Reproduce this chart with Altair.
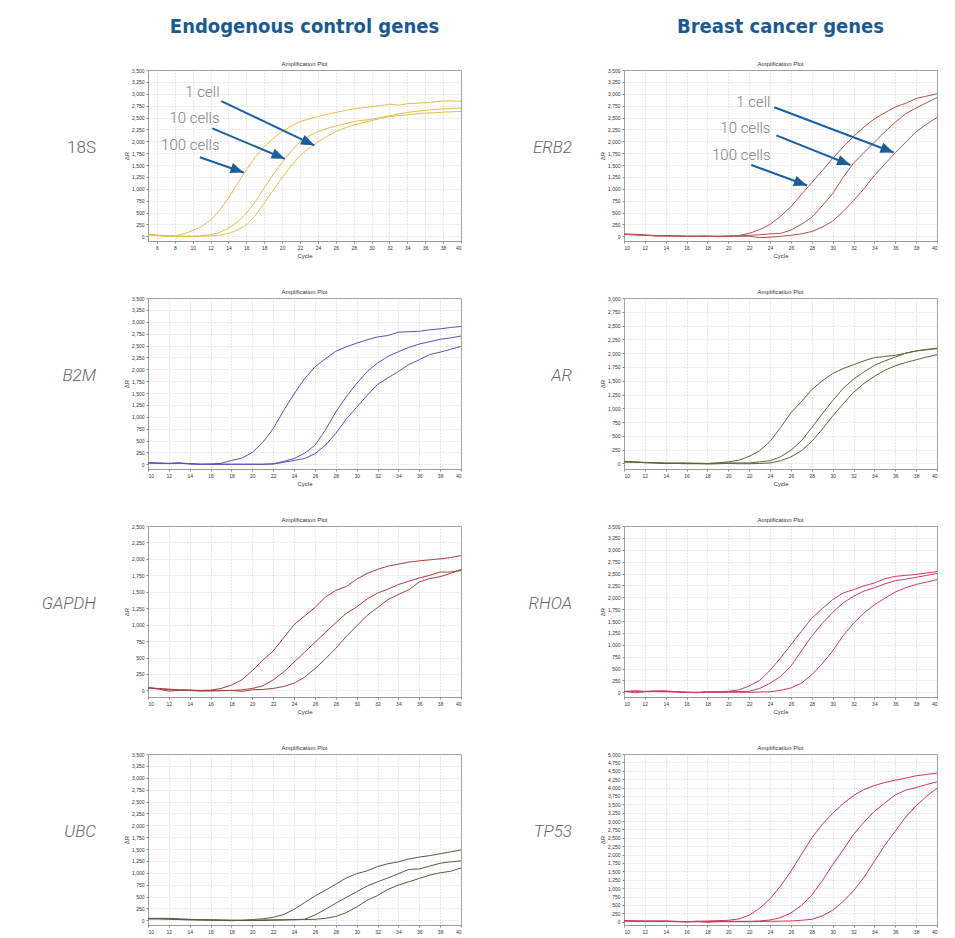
import math
import altair as alt
import pandas as pd

# ---------------- data ----------------
CYCLES_18S = list(range(5, 41))
CYCLES = list(range(10, 41))

S18_100 = [40, 25, 5, 10, 50, 120, 210, 340, 540, 800, 1110, 1400, 1670, 1880, 2060, 2200, 2320, 2415,
           2470, 2520, 2565, 2607, 2645, 2680, 2705, 2730, 2750, 2780, 2760, 2790, 2800, 2810, 2830, 2850, 2850, 2840]
S18_10 = [30, 20, 5, 0, 0, 0, 10, 30, 80, 165, 300, 485, 730, 1020, 1300, 1557, 1790, 1985,
          2110, 2200, 2270, 2320, 2370, 2414, 2440, 2460, 2500, 2536, 2575, 2607, 2630, 2650, 2665, 2680, 2690, 2700]
S18_1 = [30, 20, 5, 0, 0, 0, 0, 5, 20, 57, 130, 235, 440, 700, 970, 1235, 1480, 1700,
         1850, 1985, 2100, 2200, 2280, 2343, 2390, 2436, 2480, 2520, 2540, 2557, 2575, 2593, 2600, 2614, 2620, 2628]

B2M_100 = [30, 25, 20, 30, 10, 0, 5, 20, 79, 129, 250, 460, 750, 1130, 1480, 1800, 2050, 2220, 2380, 2470,
           2550, 2620, 2680, 2710, 2780, 2790, 2800, 2830, 2850, 2880, 2900]
B2M_10 = [30, 20, 15, 20, 10, 0, 0, 0, 0, 0, 0, 0, 10, 60, 120, 230, 400, 720, 1100, 1420,
          1700, 1950, 2130, 2270, 2370, 2460, 2530, 2580, 2630, 2660, 2700]
B2M_1 = [30, 20, 15, 20, 10, 0, 0, 0, 0, 0, 0, 0, 5, 40, 80, 120, 220, 400, 650, 950,
         1200, 1450, 1680, 1820, 1950, 2100, 2200, 2310, 2360, 2420, 2480]

GAPDH_100 = [40, 30, 20, 10, 5, 0, 5, 30, 80, 160, 300, 460, 600, 800, 1000, 1130, 1260, 1420, 1520, 1580,
             1690, 1780, 1840, 1890, 1920, 1950, 1970, 1985, 2000, 2020, 2050]
GAPDH_10 = [40, 20, -10, 0, 5, -5, -10, -5, 0, 10, 30, 70, 160, 280, 430, 580, 730, 880, 1030, 1170,
            1270, 1390, 1480, 1540, 1610, 1660, 1710, 1750, 1800, 1800, 1820]
GAPDH_1 = [40, 25, 10, 5, 0, -10, 0, 0, 0, -15, 10, 15, 30, 60, 110, 200, 330, 480, 640, 820,
           980, 1140, 1260, 1380, 1460, 1530, 1650, 1700, 1730, 1780, 1840]

UBC_100 = [40, 40, 40, 30, 20, 10, 0, 0, -10, 0, 15, 30, 60, 120, 230, 370, 510, 630, 760, 890,
           980, 1040, 1130, 1190, 1230, 1290, 1330, 1360, 1400, 1440, 1480]
UBC_10 = [30, 30, 25, 15, 10, 10, 10, 5, 0, 0, 0, 5, 10, 10, 15, 20, 110, 230, 360, 480,
          600, 720, 810, 890, 980, 1070, 1080, 1140, 1200, 1230, 1250]
UBC_1 = [30, 30, 25, 15, 10, 5, 5, 0, 0, -5, -5, -5, 0, 5, 10, 15, 20, 40, 80, 160,
         280, 420, 520, 650, 740, 810, 880, 950, 1000, 1030, 1100]

ERB2_100 = [50, 40, 30, 5, 10, 5, 0, 0, 5, -10, 5, 15, 60, 140, 250, 420, 620, 880, 1130, 1380,
            1640, 1880, 2100, 2300, 2470, 2600, 2720, 2800, 2900, 2950, 3000]
ERB2_10 = [40, 30, 20, 15, 10, 5, 0, 0, 0, 0, 0, 10, 20, 30, 50, 60, 130, 250, 400, 640,
           900, 1240, 1540, 1760, 1980, 2200, 2400, 2580, 2700, 2810, 2920]
ERB2_1 = [40, 30, 20, 10, 5, 5, 0, 0, 0, 0, 0, 0, 0, -30, -20, 0, 20, 50, 100, 190,
          320, 520, 750, 1000, 1280, 1520, 1760, 1980, 2200, 2360, 2500]

AR_100 = [40, 30, 20, 15, 10, 10, 10, 5, 0, 10, 30, 60, 130, 230, 400, 650, 920, 1120, 1340, 1500,
          1630, 1720, 1790, 1860, 1920, 1940, 1960, 2000, 2040, 2060, 2090]
AR_10 = [30, 25, 15, 10, 0, 0, 0, 0, 0, 5, 10, 10, 10, 30, 50, 120, 240, 410, 650, 900,
         1140, 1360, 1530, 1660, 1780, 1860, 1930, 2000, 2040, 2070, 2080]
AR_1 = [30, 25, 15, 10, 0, 0, -5, -5, -10, -5, 0, -5, -5, 0, 10, 50, 120, 230, 400, 620,
        860, 1080, 1290, 1450, 1580, 1690, 1770, 1830, 1880, 1930, 1970]

RHOA_100 = [10, 30, 20, 30, 30, 10, 0, -10, 10, 10, 20, 50, 130, 250, 460, 720, 1000, 1280, 1560, 1760,
            1950, 2090, 2160, 2240, 2300, 2390, 2440, 2460, 2480, 2510, 2540]
RHOA_10 = [20, -10, 10, 20, 20, 10, 0, -5, 10, 5, 10, 15, 20, 80, 190, 330, 550, 870, 1180, 1450,
           1680, 1880, 2020, 2130, 2200, 2280, 2350, 2380, 2420, 2460, 2500]
RHOA_1 = [20, 20, 15, 15, 10, 5, 0, 0, 0, 0, 0, 0, 0, 5, 10, 40, 90, 190, 370, 600,
          870, 1190, 1450, 1670, 1840, 1980, 2110, 2200, 2270, 2320, 2370]

TP53_100 = [30, 25, 20, 20, 20, 10, 0, 10, 20, 30, 40, 80, 190, 400, 680, 1060, 1500, 2000, 2500, 2900,
            3230, 3520, 3760, 3940, 4060, 4150, 4220, 4280, 4350, 4390, 4430]
TP53_10 = [20, 15, 10, 10, 10, 0, -10, 0, 0, 5, 10, 10, 10, 20, 50, 120, 260, 480, 790, 1220,
           1700, 2140, 2600, 2970, 3290, 3540, 3780, 3920, 4000, 4090, 4170]
TP53_1 = [20, 15, 10, 10, 10, 5, 0, 10, -20, 0, 0, 0, 0, 5, 10, 15, 20, 40, 70, 170,
          340, 600, 920, 1320, 1800, 2280, 2700, 3120, 3460, 3740, 3980]

SERIES = ["100 cells", "10 cells", "1 cell"]
PANEL_TITLE = "Amplification Plot"

# arrow annotations (data coordinates)
ANN_LABELS = ["1 cell", "10 cells", "100 cells"]
S18_TEXT_X = [13.0, 13.0, 13.0]
S18_TEXT_Y = [3036, 2493, 1921]
S18_ARR_X0 = [13.2, 12.2, 10.8]
S18_ARR_Y0 = [2843, 2271, 1664]
S18_ARR_X1 = [23.6, 20.3, 15.7]
S18_ARR_Y1 = [1914, 1629, 1343]

ERB2_TEXT_X = [24.04, 24.04, 24.04]
ERB2_TEXT_Y = [2819, 2271, 1715]
ERB2_ARR_X0 = [24.4, 24.6, 22.2]
ERB2_ARR_Y0 = [2715, 2125, 1500]
ERB2_ARR_X1 = [35.85, 31.7, 27.55]
ERB2_ARR_Y1 = [1764, 1500, 1069]

# ---------------- style ----------------
W, H = 313, 171
YMIN = -100
BLUE = "#1b5fa6"
HEAD_COLOR = "#1d5c9a"
ARROW_HEAD = "M0,0L-1,-0.4L-1,0.4Z"


def panel(gene, italic, cycles, series, color, ymax, xmin, xtick0,
          header=None, ann=None):
    rows = []
    for name, vals in zip(SERIES, series):
        for c, v in zip(cycles, vals):
            rows.append({"cycle": c, "value": v, "series": name})
    df = pd.DataFrame(rows)

    xscale = alt.Scale(domain=[xmin, 40], nice=False, zero=False)
    yscale = alt.Scale(domain=[YMIN, ymax], nice=False, zero=False)
    xaxis = alt.Axis(values=list(range(xtick0, 41, 2)), title="Cycle")
    yaxis = alt.Axis(values=list(range(0, ymax + 1, 250)), format=",d", title="ΔR")

    layers = [
        alt.Chart(df).mark_line(color=color, strokeWidth=1, clip=True).encode(
            x=alt.X("cycle:Q", scale=xscale, axis=xaxis),
            y=alt.Y("value:Q", scale=yscale, axis=yaxis),
            detail="series:N",
        )
    ]

    lab = pd.DataFrame({"g": [gene], "t": [PANEL_TITLE]})
    layers.append(
        alt.Chart(lab).mark_text(
            align="right", baseline="middle", fontSize=17, font="Roboto",
            fontWeight=300, fontStyle="italic" if italic else "normal", color="#666666",
        ).encode(x=alt.value(-52), y=alt.value(H / 2 - 8), text="g:N")
    )
    layers.append(
        alt.Chart(lab).mark_text(
            align="center", baseline="bottom", fontSize=6, font="Liberation Sans",
            color="#333333",
        ).encode(x=alt.value(W / 2), y=alt.value(-3), text="t:N")
    )

    if header is not None:
        hd = pd.DataFrame({"h": [header]})
        layers.append(
            alt.Chart(hd).mark_text(
                align="center", baseline="middle", fontSize=20,
                font="Liberation Sans Narrow, DejaVu Sans Condensed, sans-serif",
                fontWeight="bold", color="#1a5a92",
            ).encode(x=alt.value(W / 2), y=alt.value(-43), text="h:N")
        )

    if ann is not None:
        tx, ty, x0, y0, x1, y1 = ann
        angs = []
        for a, b, c, d in zip(x0, y0, x1, y1):
            dx = (c - a) / (40 - xmin) * W
            dy = (b - d) / (ymax - YMIN) * H
            angs.append(math.degrees(math.atan2(dy, dx)))
        adf = pd.DataFrame({"label": ANN_LABELS, "tx": tx, "ty": ty, "x0": x0, "y0": y0,
                            "x1": x1, "y1": y1, "ang": angs})
        layers.append(
            alt.Chart(adf).mark_rule(color=BLUE, strokeWidth=2).encode(
                x=alt.X("x0:Q", scale=xscale, axis=xaxis),
                y=alt.Y("y0:Q", scale=yscale, axis=yaxis),
                x2="x1:Q", y2="y1:Q",
            )
        )
        layers.append(
            alt.Chart(adf).mark_point(shape=ARROW_HEAD, size=700, filled=True, opacity=1,
                                      color=HEAD_COLOR, strokeWidth=0).encode(
                x=alt.X("x1:Q", scale=xscale, axis=xaxis),
                y=alt.Y("y1:Q", scale=yscale, axis=yaxis),
                angle=alt.Angle("ang:Q", scale=None),
            )
        )
        layers.append(
            alt.Chart(adf).mark_text(align="right", baseline="middle", fontSize=15,
                                     font="Roboto", fontWeight=300, color="#808080").encode(
                x=alt.X("tx:Q", scale=xscale, axis=xaxis),
                y=alt.Y("ty:Q", scale=yscale, axis=yaxis),
                text="label:N",
            )
        )

    return alt.layer(*layers).properties(width=W, height=H)


p_18s = panel("18S", False, CYCLES_18S, [S18_100, S18_10, S18_1], "#e3bd4a", 3500, 5, 6,
              header="Endogenous control genes",
              ann=(S18_TEXT_X, S18_TEXT_Y, S18_ARR_X0, S18_ARR_Y0, S18_ARR_X1, S18_ARR_Y1))
p_erb2 = panel("ERB2", True, CYCLES, [ERB2_100, ERB2_10, ERB2_1], "#b5504f", 3500, 10, 10,
               header="Breast cancer genes",
               ann=(ERB2_TEXT_X, ERB2_TEXT_Y, ERB2_ARR_X0, ERB2_ARR_Y0, ERB2_ARR_X1, ERB2_ARR_Y1))
p_b2m = panel("B2M", True, CYCLES, [B2M_100, B2M_10, B2M_1], "#5a52b5", 3500, 10, 10)
p_ar = panel("AR", True, CYCLES, [AR_100, AR_10, AR_1], "#636135", 3000, 10, 10)
p_gapdh = panel("GAPDH", True, CYCLES, [GAPDH_100, GAPDH_10, GAPDH_1], "#a8403f", 2500, 10, 10)
p_rhoa = panel("RHOA", True, CYCLES, [RHOA_100, RHOA_10, RHOA_1], "#d23a62", 3500, 10, 10)
p_ubc = panel("UBC", True, CYCLES, [UBC_100, UBC_10, UBC_1], "#5b5b43", 3500, 10, 10)
p_tp53 = panel("TP53", True, CYCLES, [TP53_100, TP53_10, TP53_1], "#d0355a", 5000, 10, 10)

chart = alt.concat(
    p_18s, p_erb2, p_b2m, p_ar, p_gapdh, p_rhoa, p_ubc, p_tp53,
    columns=2, spacing={"row": 57, "column": 163}, bounds="flush",
).properties(
    padding={"left": 33, "top": 8, "right": 5, "bottom": 5},
    background="white",
).configure_view(
    stroke="#9a9a9a", strokeWidth=1,
).configure_axis(
    labelFontSize=5, labelColor="#333333", labelFont="Liberation Sans",
    tickSize=2, tickColor="#888888", domain=False,
    grid=True, gridColor="#bdbdbd", gridDash=[1, 2], gridWidth=0.7,
    titleFontSize=6, titleFontWeight="normal", titleFont="Liberation Sans",
    titleColor="#333333", titlePadding=2, labelPadding=2,
)

chart.save("out.html", embed_options={"renderer": "svg", "actions": False})
